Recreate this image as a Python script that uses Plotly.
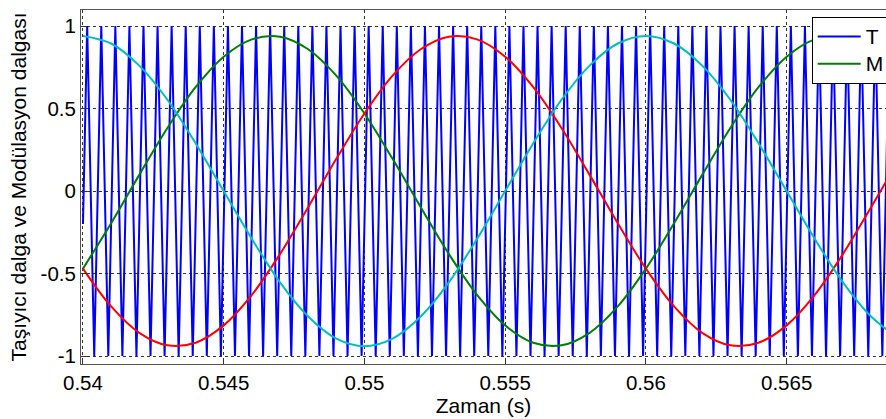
import plotly.graph_objects as go

# ---------------- data ----------------
# carrier (triangle) vertices: times in s, values
carrier_t = [
    0.54,
    0.54015, 0.5404, 0.54065, 0.5409,
    0.54115, 0.5414, 0.54165, 0.5419,
    0.54215, 0.5424, 0.54265, 0.5429,
    0.54315, 0.5434, 0.54365, 0.5439,
    0.54415, 0.5444, 0.54465, 0.5449,
    0.54515, 0.5454, 0.54565, 0.5459,
    0.54615, 0.5464, 0.54665, 0.5469,
    0.54715, 0.5474, 0.54765, 0.5479,
    0.54815, 0.5484, 0.54865, 0.5489,
    0.54915, 0.5494, 0.54965, 0.5499,
    0.55015, 0.5504, 0.55065, 0.5509,
    0.55115, 0.5514, 0.55165, 0.5519,
    0.55215, 0.5524, 0.55265, 0.5529,
    0.55315, 0.5534, 0.55365, 0.5539,
    0.55415, 0.5544, 0.55465, 0.5549,
    0.55515, 0.5554, 0.55565, 0.5559,
    0.55615, 0.5564, 0.55665, 0.5569,
    0.55715, 0.5574, 0.55765, 0.5579,
    0.55815, 0.5584, 0.55865, 0.5589,
    0.55915, 0.5594, 0.55965, 0.5599,
    0.56015, 0.5604, 0.56065, 0.5609,
    0.56115, 0.5614, 0.56165, 0.5619,
    0.56215, 0.5624, 0.56265, 0.5629,
    0.56315, 0.5634, 0.56365, 0.5639,
    0.56415, 0.5644, 0.56465, 0.5649,
    0.56515, 0.5654, 0.56565, 0.5659,
    0.56615, 0.5664, 0.56665, 0.5669,
    0.56715, 0.5674, 0.56765, 0.5679,
    0.56815, 0.5684, 0.56865, 0.5689,
]
carrier_v = [-0.2] + [1, -1] * 58

# modulation waves sampled every 1 ms
mod_t = [
    0.540, 0.541, 0.542, 0.543, 0.544, 0.545, 0.546, 0.547, 0.548, 0.549,
    0.550, 0.551, 0.552, 0.553, 0.554, 0.555, 0.556, 0.557, 0.558, 0.559,
    0.560, 0.561, 0.562, 0.563, 0.564, 0.565, 0.566, 0.567, 0.568, 0.569,
]
green_v = [
    -0.47, -0.195, 0.098, 0.382, 0.629, 0.814, 0.919, 0.935, 0.859, 0.699,
    0.47, 0.195, -0.098, -0.382, -0.629, -0.814, -0.919, -0.935, -0.859, -0.699,
    -0.47, -0.195, 0.098, 0.382, 0.629, 0.814, 0.919, 0.935, 0.859, 0.699,
]
red_v = [
    -0.47, -0.699, -0.859, -0.935, -0.919, -0.814, -0.629, -0.382, -0.098, 0.195,
    0.47, 0.699, 0.859, 0.935, 0.919, 0.814, 0.629, 0.382, 0.098, -0.195,
    -0.47, -0.699, -0.859, -0.935, -0.919, -0.814, -0.629, -0.382, -0.098, 0.195,
]
cyan_v = [
    0.94, 0.894, 0.760, 0.553, 0.290, 0.0, -0.290, -0.553, -0.760, -0.894,
    -0.94, -0.894, -0.760, -0.553, -0.290, 0.0, 0.290, 0.553, 0.760, 0.894,
    0.94, 0.894, 0.760, 0.553, 0.290, 0.0, -0.290, -0.553, -0.760, -0.894,
]

x_tickvals = [0.54, 0.545, 0.55, 0.555, 0.56, 0.565]
x_ticktext = ["0.54", "0.545", "0.55", "0.555", "0.56", "0.565"]
y_tickvals = [-1, -0.5, 0, 0.5, 1]
y_ticktext = ["-1", "-0.5", "0", "0.5", "1"]

legend_names = ["T", "M"]
x_title = "Zaman (s)"
y_title = "Taşıyıcı dalga ve Modülasyon dalgası"

# ---------------- figure ----------------
FONT = "Liberation Sans, Arial, sans-serif"

def legend_label(s):
    return "<span style='font-size:21px'>" + s + "</span>"

fig = go.Figure()
fig.add_trace(go.Scatter(x=carrier_t, y=carrier_v, mode="lines", name=legend_label(legend_names[0]),
                         line=dict(color="#0000FF", width=2)))
fig.add_trace(go.Scatter(x=mod_t, y=green_v, mode="lines", name=legend_label(legend_names[1]),
                         line=dict(color="#008000", width=2, shape="spline")))
fig.add_trace(go.Scatter(x=mod_t, y=red_v, mode="lines", showlegend=False,
                         line=dict(color="#FF0000", width=2, shape="spline")))
fig.add_trace(go.Scatter(x=mod_t, y=cyan_v, mode="lines", showlegend=False,
                         line=dict(color="#00BFBF", width=2, shape="spline")))

axis_common = dict(
    showline=True, linecolor="#555555", linewidth=1, mirror=True,
    ticks="inside", ticklen=6, tickcolor="#333333",
    showgrid=True, gridcolor="#333333", gridwidth=1, griddash="3px,3px",
    zeroline=False,
    tickfont=dict(family=FONT, size=20.5, color="black"),
)

fig.update_layout(
    width=886, height=419,
    margin=dict(l=81, r=0, t=10, b=55, autoexpand=False),
    paper_bgcolor="white", plot_bgcolor="white",
    font=dict(family=FONT, color="black"),
    showlegend=True,
    legend=dict(x=0.9077, y=0.98, xanchor="left", yanchor="top",
                bgcolor="white", bordercolor="black", borderwidth=1,
                font=dict(family=FONT, size=18.5, color="black"),
                itemwidth=43, tracegroupgap=0),
    xaxis=dict(range=[0.53993, 0.56853], tickvals=x_tickvals, ticktext=x_ticktext,
               title=dict(text=x_title, font=dict(family=FONT, size=21), standoff=4),
               **axis_common),
    yaxis=dict(range=[-1.048, 1.097], tickvals=y_tickvals, ticktext=y_ticktext,
               title=dict(text=y_title, font=dict(family=FONT, size=21), standoff=8),
               **axis_common),
)

fig.write_html("out.html")
